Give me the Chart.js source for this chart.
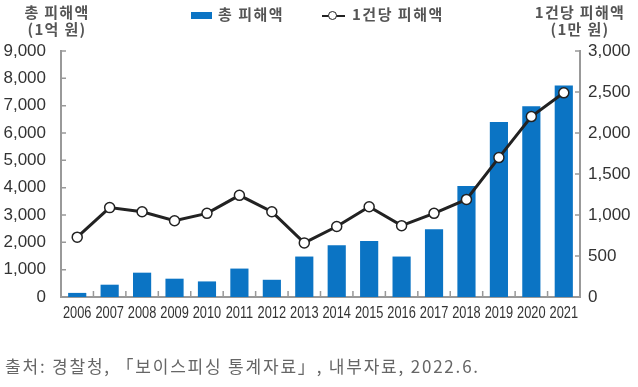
<!DOCTYPE html>
<html>
<head>
<meta charset="utf-8">
<script src="https://cdn.jsdelivr.net/npm/chart.js@4"></script>
<style>
  body { margin: 0; background: #fff; }
  #wrap { position: relative; width: 638px; height: 387px; font-family: "Noto Sans CJK KR", sans-serif; }
  #c { position: absolute; left: 0; top: 0; }
  .t { position: absolute; color: #555; font-weight: bold; font-size: 15px; line-height: 17px; letter-spacing: 1.3px; text-align: center; white-space: nowrap; }
  .src { position: absolute; left: 5px; top: 353px; color: #666; font-size: 17px; letter-spacing: 1.8px; white-space: nowrap; }
  .lg { position: absolute; top: 3px; color: #555; font-weight: bold; font-size: 15px; letter-spacing: 1.5px; white-space: nowrap; }
</style>
</head>
<body>
<div id="wrap">
  <canvas id="c" width="638" height="387"></canvas>
  <div class="t" style="left:12px;top:3px;width:90px;">총 피해액<br>(1억 원)</div>
  <div class="t" style="left:525px;top:3px;width:110px;">1건당 피해액<br>(1만 원)</div>
  <div class="lg" style="left:191px;"><span style="display:inline-block;width:21px;height:7px;background:#0b74c4;vertical-align:middle;margin-right:6px;"></span>총 피해액</div>
  <div class="lg" style="left:322px;"><span style="display:inline-block;position:relative;width:23px;height:10px;vertical-align:middle;margin-right:7px;"><span style="position:absolute;left:0;top:4px;width:23px;height:2.5px;background:#222;"></span><span style="position:absolute;left:6px;top:0;width:7px;height:7px;border:1.5px solid #222;border-radius:50%;background:#fff;"></span></span>1건당 피해액</div>
  <div class="src">출처: 경찰청, 「보이스피싱 통계자료」, 내부자료, 2022.6.</div>
</div>
<script>
const years = ['2006', '2007', '2008', '2009', '2010', '2011', '2012', '2013', '2014', '2015', '2016', '2017', '2018', '2019', '2020', '2021'];
const totalDamage = [150, 450, 890, 670, 570, 1040, 630, 1480, 1890, 2050, 1480, 2480, 4060, 6400, 6980, 7740];
const perCaseDamage = [730, 1090, 1040, 930, 1020, 1240, 1040, 660, 860, 1100, 870, 1020, 1190, 1700, 2200, 2490];

const axisColor = '#999';

// short inner ticks + condensed year labels, like the original figure
const axisDecor = {
  id: 'axisDecor',
  afterDraw(chart) {
    const ctx = chart.ctx;
    const { x, y, y2 } = chart.scales;
    ctx.save();
    ctx.strokeStyle = axisColor;
    ctx.lineWidth = 1.5;
    ctx.beginPath();
    y.ticks.forEach(t => {
      const py = y.getPixelForValue(t.value);
      ctx.moveTo(y.right, py); ctx.lineTo(y.right + 5, py);
    });
    y2.ticks.forEach(t => {
      const py = y2.getPixelForValue(t.value);
      ctx.moveTo(y2.left, py); ctx.lineTo(y2.left - 5, py);
    });
    for (let i = 0; i < years.length - 1; i++) {
      const px = (x.getPixelForValue(i) + x.getPixelForValue(i + 1)) / 2;
      ctx.moveTo(px, x.top); ctx.lineTo(px, x.top - 6);
    }
    ctx.stroke();

    ctx.fillStyle = '#333';
    ctx.font = '16px "Liberation Sans", Arial, sans-serif';
    ctx.textAlign = 'center';
    ctx.textBaseline = 'middle';
    years.forEach((lab, i) => {
      const px = x.getPixelForValue(i);
      ctx.save();
      ctx.translate(px, x.top + 16);
      ctx.scale(0.8, 1.05);
      ctx.fillText(lab, 0, 0);
      ctx.restore();
    });
    ctx.restore();
  }
};

const fmt = v => Number(v).toLocaleString('en-US');
const noGrid = { display: false, drawTicks: false };

new Chart(document.getElementById('c').getContext('2d'), {
  type: 'bar',
  data: {
    labels: years,
    datasets: [
      {
        type: 'line', label: '1건당 피해액', data: perCaseDamage, yAxisID: 'y2', order: 0,
        borderColor: '#222', borderWidth: 3, pointRadius: 5, pointBorderWidth: 1.5,
        pointBackgroundColor: '#fff', pointBorderColor: '#222', tension: 0
      },
      {
        label: '총 피해액', data: totalDamage, yAxisID: 'y', order: 1,
        backgroundColor: '#0b74c4', barPercentage: 0.56, categoryPercentage: 1
      }
    ]
  },
  plugins: [axisDecor],
  options: {
    responsive: false,
    animation: false,
    layout: { padding: { top: 51 } },
    plugins: { legend: { display: false }, tooltip: { enabled: false } },
    scales: {
      x: {
        grid: noGrid,
        border: { display: true, color: axisColor, width: 2 },
        ticks: { display: false },
        afterFit: s => { s.height = 90; }
      },
      y: {
        position: 'left', min: 0, max: 9000,
        grid: noGrid,
        border: { display: true, color: axisColor, width: 2 },
        ticks: { stepSize: 1000, color: '#333', padding: 15, callback: fmt, font: { family: 'Liberation Sans', size: 17 } },
        afterFit: s => { s.width = 61; }
      },
      y2: {
        position: 'right', min: 0, max: 3000,
        grid: noGrid,
        border: { display: true, color: axisColor, width: 2 },
        ticks: { stepSize: 500, color: '#333', padding: 8, callback: fmt, font: { family: 'Liberation Sans', size: 17 } },
        afterFit: s => { s.width = 58; }
      }
    }
  }
});
</script>
</body>
</html>
